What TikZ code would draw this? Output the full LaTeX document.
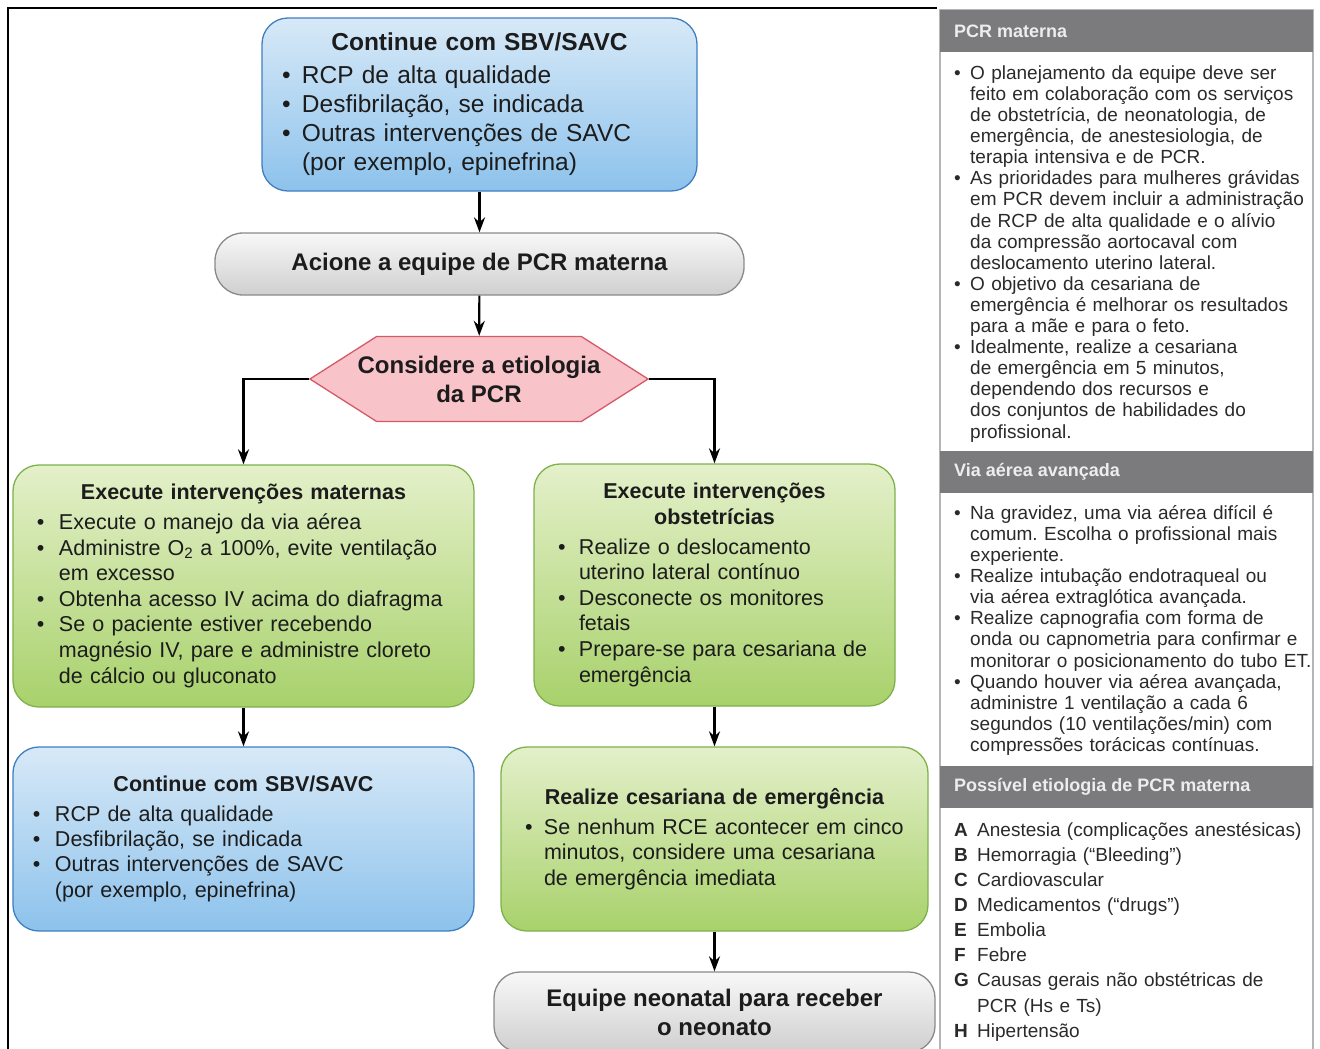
\documentclass[tikz,border=0pt]{standalone}
\usepackage{fontspec}
\setmainfont{Liberation Sans}
\usetikzlibrary{arrows.meta,shapes.symbols}
\frenchspacing

\definecolor{bluetop}{HTML}{D7E9F7}
\definecolor{bluebot}{HTML}{8DC2EC}
\definecolor{blueline}{HTML}{3F7FC1}
\definecolor{greentop}{HTML}{E4F0CA}
\definecolor{greenbot}{HTML}{A8D16B}
\definecolor{greenline}{HTML}{7DB24B}
\definecolor{graytop}{HTML}{F8F8F8}
\definecolor{graybot}{HTML}{CFCFCF}
\definecolor{grayline}{HTML}{8A8A8A}
\definecolor{pinkfill}{HTML}{F8C3C9}
\definecolor{pinkline}{HTML}{D45A67}
\definecolor{headgray}{HTML}{7B7B7D}
\definecolor{panelline}{HTML}{B5B5B5}
\definecolor{txt}{HTML}{1C1C1C}
\definecolor{paneltxt}{HTML}{2A2A2A}

% bullet line, title line, letter line
\newcommand{\itm}[2][22bp]{\par\hangindent=#1\hangafter=1\noindent\makebox[#1][l]{\textbullet}#2\par}
\newcommand{\ttl}[2][4bp]{{\centering\bfseries #2\par}\vspace{#1}}
\newcommand{\etl}[2]{\par\hangindent=23bp\hangafter=1\noindent\makebox[23bp][l]{\textbf{#1}}#2\par}

\begin{document}
\begin{tikzpicture}[x=1bp,y=-1bp,
  box/.style={rounded corners=26bp, line width=1.3bp, align=left, inner ysep=0bp, text=txt},
  bluebox/.style={box, draw=blueline, top color=bluetop, bottom color=bluebot},
  greenbox/.style={box, draw=greenline, top color=greentop, bottom color=greenbot},
  pill/.style={rounded corners=28bp, line width=1.3bp, draw=grayline, top color=graytop,
    bottom color=graybot, align=center, text=txt, font=\bfseries\fontsize{24bp}{29bp}\selectfont},
  hexa/.style={signal, signal to=west and east, signal pointer angle=65, draw=pinkline,
    fill=pinkfill, line width=1.3bp, align=center, inner ysep=0pt, inner xsep=-19bp, text=txt,
    font=\bfseries\fontsize{24bp}{29bp}\selectfont},
  arr/.style={-{Stealth[length=15bp,width=11bp]}, line width=2.2bp},
  head/.style={anchor=west, inner sep=0pt, text=white!93!black, font=\bfseries\fontsize{18bp}{21bp}\selectfont},
  panel/.style={anchor=north west, inner sep=0pt, text width=360bp, align=left, text=paneltxt,
    font=\fontsize{19bp}{21.1bp}\selectfont}]
  \useasboundingbox (0,0) rectangle (1320,1048);
  \draw[line width=2.5bp] (8,1070) -- (8,8) -- (937,8);

  % flowchart
  \node[bluebox, minimum width=435bp, minimum height=173bp, inner xsep=20bp, text width=395bp,
    font=\fontsize{24.5bp}{29bp}\selectfont] (sbv1) at (479.5,104.5)
    {\ttl{Continue com SBV/SAVC}\itm[20bp]{RCP de alta qualidade}\itm[20bp]{Desfibrilação, se indicada}%
     \itm[20bp]{Outras intervenções de SAVC\newline(por exemplo, epinefrina)}};
  \node[pill, minimum width=529bp, minimum height=62bp] (acione) at (479.5,264)
    {Acione a equipe de PCR materna};
  \node[hexa, minimum height=85bp] (etio) at (479,379)
    {Considere a etiologia\\da PCR};
  \node[greenbox, minimum width=461bp, minimum height=242bp, inner xsep=24bp, text width=413bp,
    font=\fontsize{21.5bp}{25.6bp}\selectfont] (mat) at (243.5,586)
    {\ttl{Execute intervenções maternas}\itm{Execute o manejo da via aérea}%
     \itm{Administre O\textsubscript{2} a 100\%, evite ventilação\newline em excesso}%
     \itm{Obtenha acesso IV acima do diafragma}%
     \itm{Se o paciente estiver recebendo\newline magnésio IV, pare e administre cloreto\newline de cálcio ou gluconato}};
  \node[greenbox, minimum width=361bp, minimum height=242bp, inner xsep=24bp, text width=313bp,
    font=\fontsize{21.5bp}{25.6bp}\selectfont] (obs) at (714.5,585)
    {\ttl{Execute intervenções\\obstetrícias}\itm[21bp]{Realize o deslocamento\newline uterino lateral contínuo}%
     \itm[21bp]{Desconecte os monitores\newline fetais}\itm[21bp]{Prepare-se para cesariana de\newline emergência}};
  \node[bluebox, minimum width=461bp, minimum height=184bp, inner xsep=20bp, text width=421bp,
    font=\fontsize{21.5bp}{25.3bp}\selectfont] (sbv2) at (243.5,839)
    {\ttl{Continue com SBV/SAVC}\itm{RCP de alta qualidade}\itm{Desfibrilação, se indicada}%
     \itm{Outras intervenções de SAVC\newline(por exemplo, epinefrina)}};
  \node[greenbox, minimum width=427bp, minimum height=184bp, inner xsep=24bp, text width=379bp,
    font=\fontsize{21.5bp}{25.6bp}\selectfont] (ces) at (714.5,839)
    {\ttl{Realize cesariana de emergência}\itm[19bp]{Se nenhum RCE acontecer em cinco\newline minutos, considere uma cesariana\newline de emergência imediata}};
  \node[pill, rounded corners=26bp, minimum width=441bp, minimum height=80bp] (neo) at (714.5,1012)
    {Equipe neonatal para receber\\o neonato};

  \draw[arr] (sbv1) -- (acione);
  \draw[arr] (acione) -- (etio);
  \draw[arr] (etio.west) -| (mat.north);
  \draw[arr] (etio.east) -| (obs.north);
  \draw[arr] (mat) -- (sbv2);
  \draw[arr] (obs) -- (ces);
  \draw[arr] (ces) -- (neo);

  % side panel
  \draw[panelline, line width=1.2bp] (940,10) rectangle (1313,1070);
  \fill[headgray] (940,10) rectangle (1313,52);
  \fill[headgray] (940,451) rectangle (1313,493);
  \fill[headgray] (940,766) rectangle (1313,808);
  \node[head] (h1) at (954,31) {PCR materna};
  \node[head] (h2) at (954,472) {Via aérea avançada};
  \node[head] (h3) at (954,787) {Possível etiologia de PCR materna};
  \node[panel] (b1) at (954,58)
    {\itm[16bp]{O planejamento da equipe deve ser\newline feito em colaboração com os serviços\newline de obstetrícia, de neonatologia, de\newline emergência, de anestesiologia, de\newline terapia intensiva e de PCR.}%
     \itm[16bp]{As prioridades para mulheres grávidas\newline em PCR devem incluir a administração\newline de RCP de alta qualidade e o alívio\newline da compressão aortocaval com\newline deslocamento uterino lateral.}%
     \itm[16bp]{O objetivo da cesariana de\newline emergência é melhorar os resultados\newline para a mãe e para o feto.}%
     \itm[16bp]{Idealmente, realize a cesariana\newline de emergência em 5 minutos,\newline dependendo dos recursos e\newline dos conjuntos de habilidades do\newline profissional.}};
  \node[panel] (b2) at (954,498)
    {\itm[16bp]{Na gravidez, uma via aérea difícil é\newline comum. Escolha o profissional mais\newline experiente.}%
     \itm[16bp]{Realize intubação endotraqueal ou\newline via aérea extraglótica avançada.}%
     \itm[16bp]{Realize capnografia com forma de\newline onda ou capnometria para confirmar e\newline monitorar o posicionamento do tubo ET.}%
     \itm[16bp]{Quando houver via aérea avançada,\newline administre 1 ventilação a cada 6\newline segundos (10 ventilações/min) com\newline compressões torácicas contínuas.}};
  \node[panel, font=\fontsize{19bp}{25.1bp}\selectfont] (b3) at (954,811)
    {\etl{A}{Anestesia (complicações anestésicas)}\etl{B}{Hemorragia (“Bleeding”)}%
     \etl{C}{Cardiovascular}\etl{D}{Medicamentos (“drugs”)}\etl{E}{Embolia}\etl{F}{Febre}%
     \etl{G}{Causas gerais não obstétricas de\newline PCR (Hs e Ts)}\etl{H}{Hipertensão}};
\end{tikzpicture}
\end{document}
